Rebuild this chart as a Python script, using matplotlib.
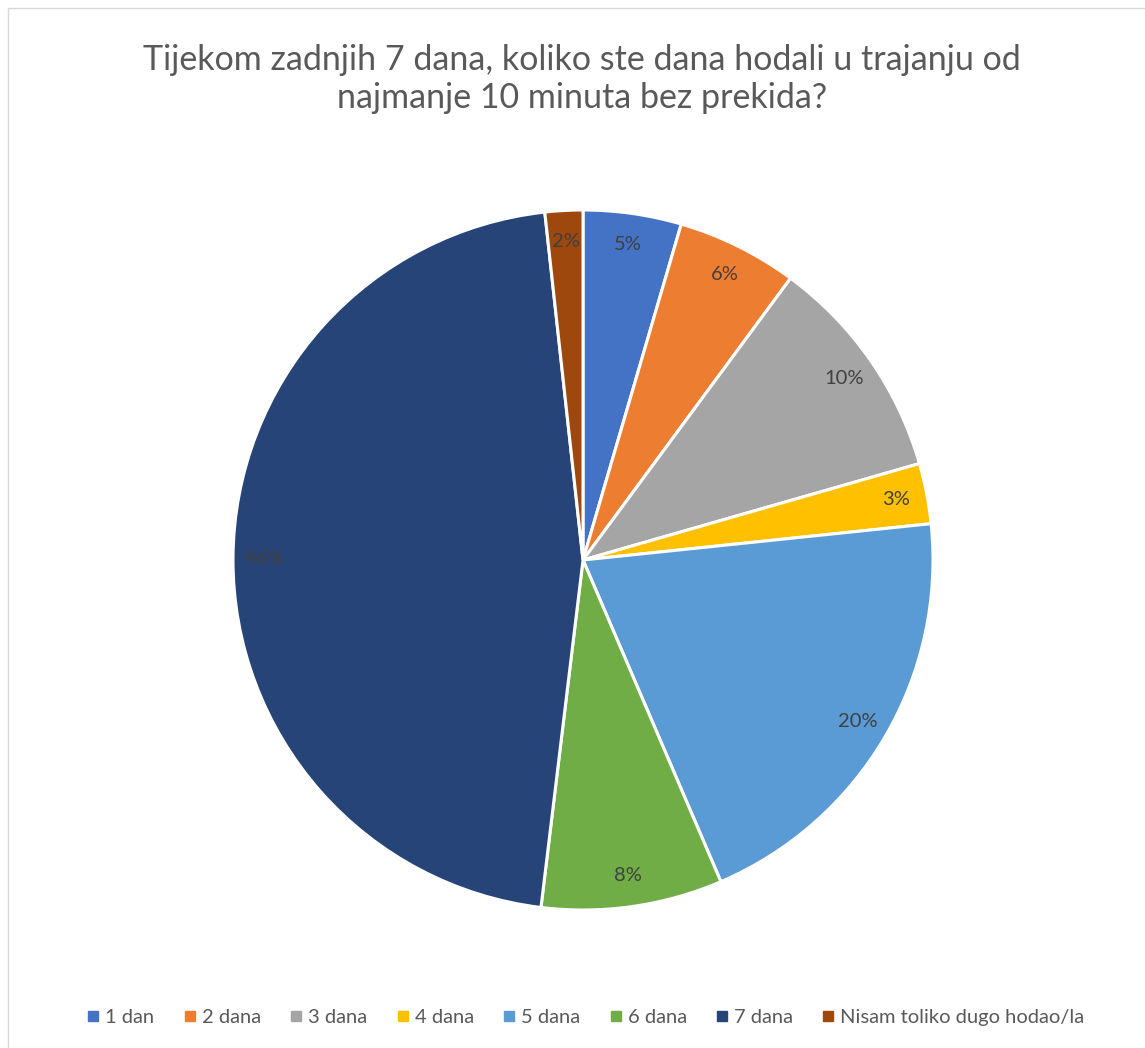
import matplotlib
matplotlib.use("Agg")
import matplotlib.pyplot as plt
from matplotlib.lines import Line2D
from matplotlib.patches import Rectangle

plt.rcParams['font.family'] = ['Lato', 'DejaVu Sans']

categories = ["1 dan", "2 dana", "3 dana", "4 dana", "5 dana", "6 dana", "7 dana",
              "Nisam toliko dugo hodao/la"]
# answer counts (labels show rounded %)
counts = [13, 16, 30, 8, 58, 24, 133, 5]
colors = ["#4472C4", "#ED7D31", "#A5A5A5", "#FFC000", "#5B9BD5", "#70AD47",
          "#264478", "#9E480E"]
title = "Tijekom zadnjih 7 dana, koliko ste dana hodali u trajanju od\nnajmanje 10 minuta bez prekida?"

total = sum(counts)
labels = [f"{round(100 * c / total)}%" for c in counts]

fig = plt.figure(figsize=(11.45, 10.48), dpi=100)
fig.patches.append(Rectangle((0.007, -0.01), 1.0, 1.002, transform=fig.transFigure,
                             fill=False, edgecolor="#D9D9D9", linewidth=1))

# pie centre (583, 560) px, radius ~350 px
cx, cy, r = 583 / 1145, 1 - 560 / 1048, 350
ax = fig.add_axes([cx - r / 1145, cy - r / 1048, 2 * r / 1145, 2 * r / 1048])
wedges, texts = ax.pie(counts, colors=colors, startangle=90, counterclock=False,
                       labels=labels, labeldistance=0.91,
                       wedgeprops=dict(edgecolor="white", linewidth=2.2),
                       textprops=dict(color="#404040", fontsize=14.5))
for t in texts:
    t.set_horizontalalignment("center")
    t.set_verticalalignment("center")
ax.set_xlim(-1, 1)
ax.set_ylim(-1, 1)
ax.set_aspect("equal")
ax.axis("off")

fig.text(0.508, 1 - 79 / 1048, title, ha="center", va="center", fontsize=24.5,
         color="#595959", linespacing=1.22)

handles = [Line2D([], [], marker="s", linestyle="", markersize=7, color=c) for c in colors]
leg = fig.legend(handles, categories, loc="center", bbox_to_anchor=(0.51, 1 - 1017 / 1048),
                 ncol=8, frameon=False, fontsize=14.5, handletextpad=0.1,
                 columnspacing=1.25, handlelength=1.0, labelcolor="#595959")

fig.savefig("out.png", dpi=100)
